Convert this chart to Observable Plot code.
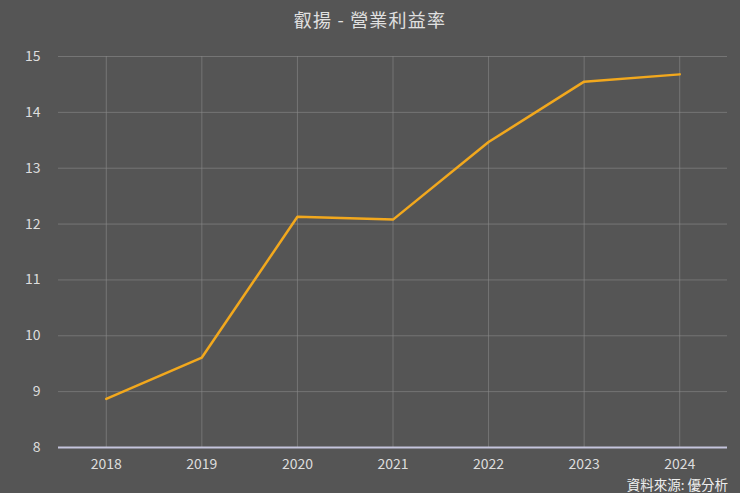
<!DOCTYPE html>
<html><head><meta charset="utf-8">
<script src="https://cdn.jsdelivr.net/npm/d3@7"></script>
<script src="https://cdn.jsdelivr.net/npm/@observablehq/plot@0.6"></script>
<style>
body{margin:0;background:#555555;width:740px;height:493px;overflow:hidden;position:relative;font-family:"Noto Sans CJK TC","Noto Sans",sans-serif;}
#title{position:absolute;top:7px;left:0;width:740px;text-align:center;color:#e0e0e0;font-size:18px;line-height:24px;white-space:pre;letter-spacing:1.2px;}
#chart{position:absolute;top:40px;left:0;}
#cap{position:absolute;right:12px;top:475px;color:#eeeeee;font-size:13.5px;line-height:18px;}
</style></head>
<body>
<div id="title">叡揚 - 營業利益率</div>
<div id="chart"></div>
<div id="cap">資料來源: 優分析</div>
<script>
const years = ["2018", "2019", "2020", "2021", "2022", "2023", "2024"];
const margins = [8.87, 9.61, 12.13, 12.08, 13.47, 14.55, 14.68];
const yTicks = [8, 9, 10, 11, 12, 13, 14, 15];

const data = years.map((y, i) => ({year: y, value: margins[i]}));

const chart = Plot.plot({
  width: 740,
  height: 440,
  marginLeft: 58,
  marginRight: 13,
  marginTop: 16,
  marginBottom: 33,
  style: {background: "transparent", color: "#dddddd", fontSize: "14px", fontFamily: "'Noto Sans CJK TC','Noto Sans',sans-serif"},
  x: {type: "point", domain: years, padding: 0.5, round: false, label: null},
  y: {domain: [8, 15], label: null},
  marks: [
    Plot.gridY(yTicks.filter(d => d > 8), {stroke: "#8a8a8a", strokeOpacity: 0.6, strokeWidth: 1}),
    Plot.gridX(years, {stroke: "#8a8a8a", strokeOpacity: 0.6, strokeWidth: 1}),
    Plot.ruleY([8], {stroke: "#c4c4dc", strokeWidth: 2}),
    Plot.axisY(yTicks, {tickSize: 0, tickPadding: 18, tickFormat: "d", label: null, fill: "#dddddd"}),
    Plot.axisX(years, {tickSize: 0, tickPadding: 12, label: null, fill: "#dddddd"}),
    Plot.line(data, {x: "year", y: "value", stroke: "#f2a81d", strokeWidth: 2.5})
  ]
});
document.getElementById("chart").appendChild(chart);
</script>
</body></html>
